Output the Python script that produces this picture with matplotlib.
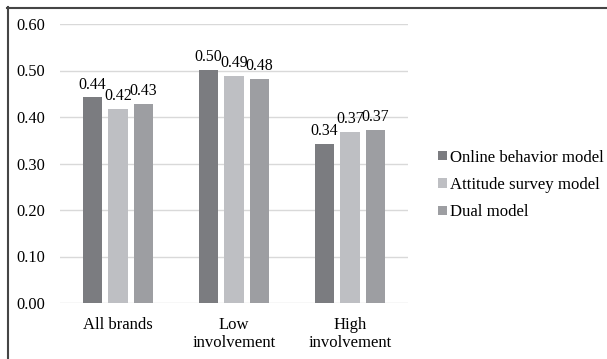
import numpy as np
import matplotlib
matplotlib.use("Agg")
import matplotlib.pyplot as plt
from matplotlib.lines import Line2D

plt.rcParams['font.family'] = ['Liberation Serif', 'DejaVu Serif']
plt.rcParams['font.size'] = 12

groups = ["All brands", "Low\ninvolvement", "High\ninvolvement"]
models = ["Online behavior model", "Attitude survey model", "Dual model"]
online = [0.442, 0.501, 0.342]
attitude = [0.417, 0.488, 0.368]
dual = [0.429, 0.482, 0.372]
colors = ["#7b7c80", "#bebfc3", "#9d9ea2"]

fig = plt.figure(figsize=(6.07, 3.59), dpi=100)
ax = fig.add_axes([60 / 607, 56 / 359, 348 / 607, 279 / 359])

x = np.arange(len(groups))
width = 0.172
step = 0.22
for i, (vals, name) in enumerate(zip([online, attitude, dual], models)):
    bars = ax.bar(x + (i - 1) * step, vals, width, color=colors[i], label=name, zorder=3)
    for b, v in zip(bars, vals):
        ax.annotate(f"{v:.2f}", (b.get_x() + b.get_width() / 2, v),
                    xytext=(0, 3.5), textcoords="offset points",
                    ha="center", va="bottom", fontsize=11.4)

ax.set_xlim(-0.5, 2.5)
ax.set_ylim(0, 0.6)
ax.set_yticks(np.arange(0, 0.61, 0.1))
ax.set_yticklabels([f"{t:.2f}" for t in np.arange(0, 0.61, 0.1)], fontsize=11.8)
ax.set_xticks(x)
ax.set_xticklabels(groups, linespacing=1.15)
ax.tick_params(length=0, axis="y", pad=10.5)
ax.tick_params(length=0, axis="x", pad=10)
ax.grid(axis="y", color="#d9d9d9", lw=1, zorder=0)
for s in ax.spines.values():
    s.set_visible(False)

fig.legend(loc="center left", bbox_to_anchor=(430 / 607, 1 - 185 / 359),
           frameon=False, handlelength=0.5, handleheight=0.5,
           handletextpad=0.2, labelspacing=0.68, borderpad=0, fontsize=12.1)

# frame lines along the top and left edge
fig.add_artist(Line2D([7 / 607, 1], [1 - 7.5 / 359] * 2, color="#454545", lw=1.5))
fig.add_artist(Line2D([7.5 / 607] * 2, [0, 1 - 7 / 359], color="#454545", lw=1.5))

fig.savefig("out.png", dpi=100)
